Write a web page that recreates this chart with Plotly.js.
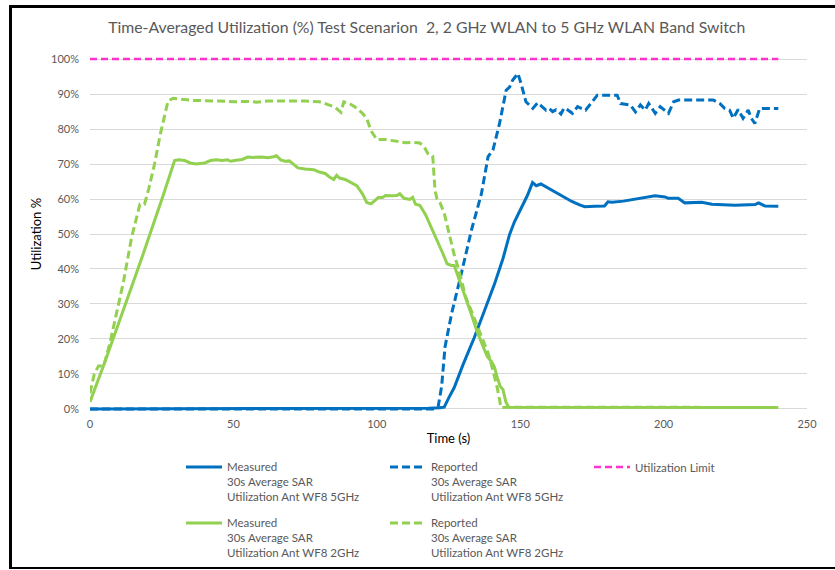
<!DOCTYPE html>
<html><head><meta charset="utf-8">
<script src="https://cdn.plot.ly/plotly-3.0.1.min.js"></script>
<style>
html,body{margin:0;padding:0;background:#fff;overflow:hidden}
#chart{width:835px;height:570px}
#frame{position:absolute;left:9px;top:5px;width:900px;height:559px;border-top:3px solid #000;border-left:3px solid #000;border-bottom:2px solid #000;pointer-events:none}
</style>
</head><body>
<div id="chart"></div><div id="frame"></div>
<script>
// ---- Data (time in s, utilization in %) ----
const timeBlueMeasured = [0,20,40,60,80,100,110,112,118,122,123.5,125,127,130,134,137.5,141,144,146.3,148,149.3,150.3,152.5,154.3,155.6,157.2,160,164.2,168,170.7,172.5,176,179.4,180.6,182,186,190,194,197,200.5,201.6,205.1,207.4,213.3,216.8,224.9,231.9,233.1,235.4,240];
const valBlueMeasured  = [0,0,0,0,0,0,0,0.1,0.2,0.3,0.5,3,6.1,12.5,20.4,28,35.6,43,49.9,53.5,55.6,57,61,64.7,63.8,64.3,63,60.9,59.3,58.3,57.8,57.9,58,59.2,59.1,59.4,60,60.5,60.9,60.6,60.2,60.2,58.9,59.1,58.5,58.2,58.4,58.9,58,57.9];

const timeBlueReported = [0,20,40,60,80,100,120,121.4,122.6,123.8,126.1,129.5,133,136.5,138.8,140.5,142.8,145.1,146.3,147.4,149.2,150.3,152,154.4,156.1,157.5,159,160.1,161.3,162.5,164.2,165.3,166.5,168.2,170,172.8,175.7,176.9,183.8,185,188.4,190.2,191.9,193.6,194.8,197.1,198.8,201.7,203.5,205.2,217.3,219.6,221.3,223,224.3,226,227.7,229.5,230.6,231.8,233.5,240];
const valBlueReported  = [0,0,0,0,0,0,0,0.7,6.4,17.8,27.3,38.8,51.1,61.6,72.1,74,81.6,91.1,92,94,95.9,93,87.8,85.9,87.5,86.5,85.4,85.9,85,85.5,84.3,86,85.5,84.5,86.4,85.4,88.3,89.7,89.7,87.3,86.9,84.9,86.9,85.4,87.3,84.5,86.4,84.5,87.8,88.3,88.3,87.3,85.9,85.4,83.1,85.6,83.1,85.4,83.1,81.6,85.9,85.9];

const timeLimit = [0,240];
const valLimit  = [100,100];

const timeGreenMeasured = [0,5,11.5,18,25.5,29.5,31,33,35,37,40,42,44,46,48,49,51,53,55,57,60,62,64,65,66.5,68,69.5,71,72.5,75,78,80,82,83.5,85,86,87,89,91,93,95,96.5,98,99,100.5,102,103,105,107,108,109.5,111.5,112.5,113.5,115,117,119,121,123,124.5,126,127,129,131,133,135,137,138.5,140,141,142,143,144,145,146,150,160,170,180,190,200,210,220,230,240];
const valGreenMeasured  = [2,13,28,43,61,71,71.2,71,70.3,70,70.3,71,71.2,71,71.2,70.8,71.1,71.3,72,71.9,72,71.8,72.1,72.4,71.2,70.8,70.9,69.8,68.9,68.6,68.4,67.7,67.3,66.3,65.6,66.8,66,65.6,64.8,63.8,61.5,59,58.6,59.3,60.4,60.4,61,60.9,61,61.5,60.2,59.9,60.5,58.5,58.2,55.5,52,48.5,44.5,41.5,41,41,36.5,31.5,27,22,18,15,13.5,12,9,6.5,5.5,2,0.5,0.5,0.5,0.5,0.4,0.4,0.5,0.4,0.4,0.4,0.4];

const timeGreenReported = [0,1.5,3,4.8,7,9.5,11.7,14.5,17.4,19,20.5,22.5,24.5,27.2,29,32,36,45,50,55,58,62,66,70,75,80,83,85.5,87.5,88.5,90.5,93,95,96.5,98,100,103,105,107,110,113,115,116.5,117.8,119.5,120.3,121,122,123.5,125,127,128.5,131,133,136,139,140.5,142,143.3,146,150,160,170,180,190,200,210,220,230,240];
const valGreenReported  = [4.5,10,12.3,12.3,19,28,36.5,49,58.5,58.5,63,70,78.5,88,88.8,88.5,88.2,88,87.8,87.9,87.7,88,88.1,88,88,87.8,87,86.2,84.8,87.8,87.3,86,84.5,83,79.5,77,77,76.8,76.5,76.1,76.2,76,75,73,72.3,62.5,60,59,56,51,44,40,32,28,21.5,15.5,11,6,0.4,0.5,0.5,0.5,0.5,0.4,0.4,0.5,0.4,0.4,0.4,0.4];

const names = [
  'Measured<br>30s Average SAR<br>Utilization Ant WF8 5GHz',
  'Reported<br>30s Average SAR<br>Utilization Ant WF8 5GHz',
  'Utilization Limit',
  'Measured<br>30s Average SAR<br>Utilization Ant WF8 2GHz',
  'Reported<br>30s Average SAR<br>Utilization Ant WF8 2GHz'
];
const xTicks = [0,50,100,150,200,250];
const yTicks = [0,10,20,30,40,50,60,70,80,90,100];
const yTickText = yTicks.map(v => v + '%');

const BLUE = '#0070C0', GREEN = '#92D050', PINK = '#FF33CC';
const FONT = 'Lato, "Liberation Sans", Arial, sans-serif';

const traces = [
  {x: timeBlueMeasured, y: valBlueMeasured, name: names[0], mode: 'lines', line: {color: BLUE, width: 3}, legend: 'legend'},
  {x: timeBlueReported, y: valBlueReported, name: names[1], mode: 'lines', line: {color: BLUE, width: 3, dash: '8px,4px'}, legend: 'legend'},
  {x: timeLimit, y: valLimit, name: names[2], mode: 'lines', line: {color: PINK, width: 2.5, dash: '7px,4px'}, legend: 'legend'},
  {x: timeGreenMeasured, y: valGreenMeasured, name: names[3], mode: 'lines', line: {color: GREEN, width: 3}, legend: 'legend2'},
  {x: timeGreenReported, y: valGreenReported, name: names[4], mode: 'lines', line: {color: GREEN, width: 3, dash: '8px,4px'}, legend: 'legend2'}
];

const W = 835, H = 570;
const legendCommon = {
  orientation: 'h', xref: 'container', yref: 'container', xanchor: 'left', yanchor: 'top',
  entrywidth: 153, entrywidthmode: 'pixels', valign: 'top', traceorder: 'normal', itemwidth: 36,
  bgcolor: 'rgba(0,0,0,0)', borderwidth: 0,
  font: {family: FONT, size: 11.5, color: '#595959'}
};

const layout = {
  width: W, height: H,
  paper_bgcolor: '#fff', plot_bgcolor: '#fff',
  margin: {l: 90, r: 28, t: 56.9, b: 158.9, pad: 0},
  showlegend: true,
  title: {text: 'Time-Averaged Utilization (%) Test Scenarion&nbsp;&nbsp;2, 2 GHz WLAN to 5 GHz WLAN Band Switch',
          x: 0.511, xref: 'container', xanchor: 'center', y: 1 - 27/H, yref: 'container', yanchor: 'middle',
          font: {family: FONT, size: 15.8, color: '#595959'}},
  xaxis: {range: [0, 250], tickvals: xTicks, ticktext: xTicks.map(String), showgrid: false, zeroline: false,
          showline: false, ticks: '', ticklabelstandoff: 5, tickfont: {family: FONT, size: 11, color: '#595959'},
          title: {text: 'Time (s)', font: {family: FONT, size: 13, color: '#000'}, standoff: 4}},
  yaxis: {range: [-0.6, 100.6], tickvals: yTicks, ticktext: yTickText, showgrid: true, gridcolor: '#D9D9D9', gridwidth: 1,
          zeroline: false, showline: false, ticks: '', ticklabelstandoff: 10,
          tickfont: {family: FONT, size: 11, color: '#595959'},
          title: {text: 'Utilization %', font: {family: FONT, size: 13, color: '#000'}, standoff: 6}},
  legend: Object.assign({}, legendCommon, {x: 181/W, y: 1 - 453/H}),
  legend2: Object.assign({}, legendCommon, {x: 181/W, y: 1 - 509/H}),
  hovermode: false
};

Plotly.newPlot('chart', traces, layout, {staticPlot: true, displayModeBar: false});
</script>
</body></html>
